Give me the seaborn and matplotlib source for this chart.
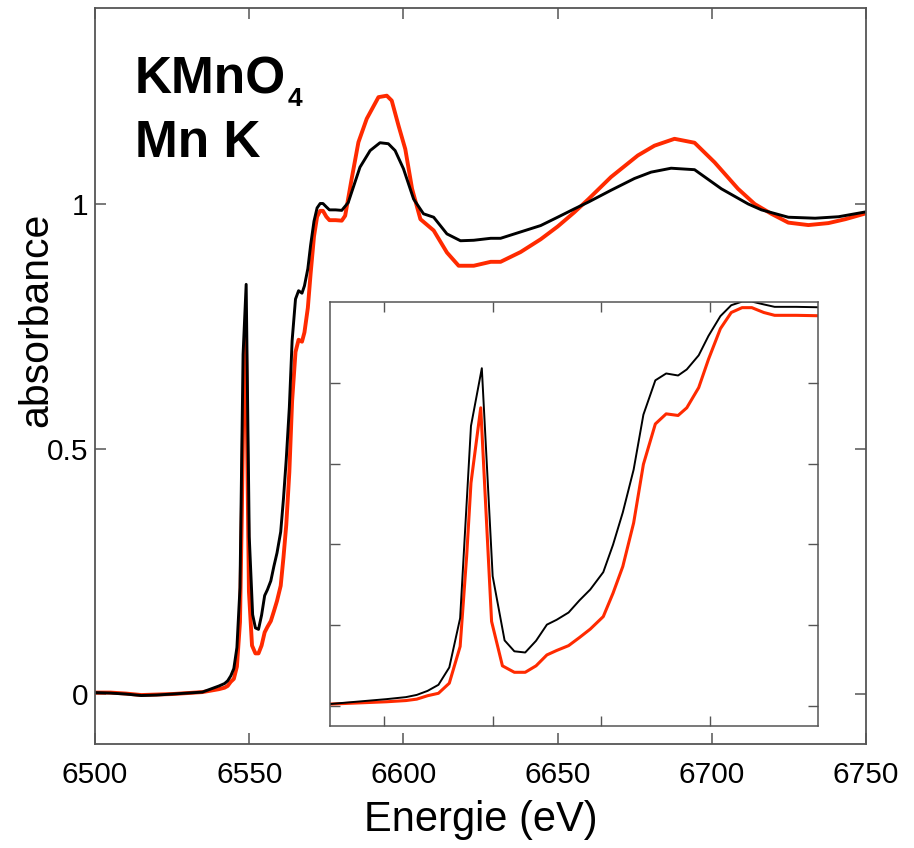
import matplotlib
matplotlib.use("Agg")
import matplotlib.pyplot as plt
import seaborn as sns
import pandas as pd

# Mn K-edge XANES of KMnO4: two measured spectra
energy_black = [6500, 6505, 6510, 6515, 6520, 6525, 6530, 6534.8, 6540.2, 6542, 6543, 6544,
                6545, 6546, 6547, 6547.6, 6548, 6549, 6550, 6551.1, 6552, 6553, 6554, 6555,
                6555.9, 6557, 6558, 6559, 6560.2, 6561.1, 6562, 6563, 6563.9, 6565, 6566,
                6567.1, 6567.9, 6569, 6569.9, 6571, 6572, 6573, 6573.9, 6575, 6576, 6578,
                6580, 6582.1, 6585.9, 6589.2, 6592.4, 6595.1, 6597.3, 6600, 6603.3, 6606.5,
                6609.8, 6614.1, 6618.5, 6622.8, 6628.3, 6631.5, 6638, 6644.5, 6650, 6655.4,
                6660, 6667.3, 6674.9, 6680.3, 6686.8, 6694.4, 6703.1, 6711.8, 6716.1, 6724.8,
                6733.5, 6741.1, 6750]
absorb_black = [0.003, 0.002, 0.0, -0.003, -0.002, 0.0, 0.002, 0.004, 0.0165, 0.0215, 0.027, 0.037,
                0.052, 0.095, 0.217, 0.502, 0.693, 0.836, 0.321, 0.162, 0.135, 0.132, 0.161, 0.201,
                0.213, 0.231, 0.261, 0.288, 0.331, 0.399, 0.479, 0.585, 0.721, 0.806, 0.823,
                0.818, 0.833, 0.868, 0.916, 0.965, 0.992, 1.001, 1.001, 0.994, 0.988, 0.988,
                0.987, 1.003, 1.075, 1.109, 1.125, 1.123, 1.109, 1.072, 1.010, 0.980,
                0.973, 0.939, 0.925, 0.926, 0.930, 0.930, 0.943, 0.956, 0.973, 0.990,
                1.004, 1.028, 1.052, 1.065, 1.073, 1.070, 1.031, 1.000, 0.988, 0.973,
                0.971, 0.974, 0.984]

energy_red = [6500, 6505, 6510, 6515, 6520, 6525, 6530, 6534.8, 6540.2, 6542, 6543, 6544,
              6545, 6546, 6547, 6547.6, 6548, 6548.9, 6549.9, 6550.9, 6552, 6553, 6554, 6555,
              6555.9, 6557, 6558, 6559, 6560.2, 6561.1, 6562, 6563, 6563.9, 6565, 6566,
              6567.1, 6567.9, 6569, 6569.9, 6571, 6572, 6573, 6573.9, 6575, 6576, 6578,
              6580, 6581.1, 6583.2, 6585.4, 6588.1, 6591.9, 6594.6, 6596.2, 6598.4, 6600.6,
              6602.8, 6605.5, 6609.8, 6614.1, 6617.9, 6622.8, 6628.3, 6631.5, 6638, 6644.5,
              6650, 6655.4, 6660, 6667.3, 6676, 6681.4, 6687.9, 6694.4, 6700.9, 6708.5,
              6713.9, 6719.3, 6724.8, 6731.3, 6737.8, 6743.3, 6750]
absorb_red = [0.003, 0.003, 0.001, -0.002, -0.001, 0.0, 0.002, 0.004, 0.010, 0.013, 0.0165, 0.025,
              0.031, 0.056, 0.147, 0.370, 0.552, 0.738, 0.209, 0.099, 0.083, 0.083, 0.099, 0.126,
              0.137, 0.149, 0.169, 0.190, 0.221, 0.279, 0.345, 0.453, 0.598, 0.698, 0.723,
              0.719, 0.738, 0.788, 0.858, 0.934, 0.974, 0.986, 0.986, 0.974, 0.967, 0.967,
              0.966, 0.976, 1.051, 1.126, 1.174, 1.218, 1.221, 1.211, 1.160, 1.112,
              1.031, 0.969, 0.946, 0.901, 0.874, 0.874, 0.882, 0.882, 0.902, 0.928,
              0.954, 0.983, 1.010, 1.055, 1.099, 1.119, 1.133, 1.125, 1.085, 1.031,
              1.000, 0.980, 0.962, 0.957, 0.961, 0.969, 0.981]

x_ticks = [6500, 6550, 6600, 6650, 6700, 6750]
y_ticks = [0, 0.5, 1]
y_tick_labels = ["0", "0.5", "1"]
inset_x_ticks = [6540, 6550, 6560, 6570]
inset_y_ticks = [0, 0.2, 0.4, 0.6, 0.8]

RED = "#ff2a00"
SPINE = "#555555"

sns.set_style("ticks")
plt.rcParams["font.family"] = ["Liberation Sans", "DejaVu Sans"]
plt.rcParams["text.color"] = "black"
plt.rcParams["axes.labelcolor"] = "black"

df_black = pd.DataFrame({"E": energy_black, "mu": absorb_black})
df_red = pd.DataFrame({"E": energy_red, "mu": absorb_red})

fig = plt.figure(figsize=(9.14, 8.48), dpi=100)
ax = fig.add_axes([0.104, 0.1226, 0.8435, 0.868])

sns.lineplot(data=df_red, x="E", y="mu", ax=ax, color=RED, lw=2.8, estimator=None, sort=False)
sns.lineplot(data=df_black, x="E", y="mu", ax=ax, color="black", lw=2.1, estimator=None, sort=False)

ax.set_xlim(6500, 6750)
ax.set_ylim(-0.102, 1.40)
ax.set_xticks(x_ticks)
ax.set_yticks(y_ticks)
ax.set_yticklabels(y_tick_labels)
ax.tick_params(axis="both", direction="in", length=8, width=1.1, color=SPINE,
               labelcolor="black", top=True, right=True, labelsize=21.5)
ax.tick_params(axis="x", pad=12)
ax.tick_params(axis="y", pad=5)
for sp in ax.spines.values():
    sp.set_color(SPINE)
    sp.set_linewidth(1.3)
ax.set_xlabel("Energie (eV)", fontsize=30, labelpad=8)
ax.set_ylabel("absorbance", fontsize=29.5)
ax.yaxis.set_label_coords(-0.052, 0.576)

# sample / edge label with subscript
t1 = ax.text(135 / 914, 1 - 93 / 848, "KMnO", transform=fig.transFigure, fontsize=37,
             fontweight="bold", ha="left", va="baseline")
ax.text(135 / 914, 1 - 157 / 848, "Mn K", transform=fig.transFigure, fontsize=37,
        fontweight="bold", ha="left", va="baseline")
fig.canvas.draw()
bb = t1.get_window_extent(renderer=fig.canvas.get_renderer())
x_sub = bb.x1 / fig.bbox.width + 1 / 914
ax.text(x_sub, 1 - 106 / 848, "4", transform=fig.transFigure, fontsize=19,
        fontweight="bold", ha="left", va="baseline")

# zoom on the pre-edge and rising edge
axin = fig.add_axes([330 / 914, 1 - 726 / 848, 488 / 914, 424 / 848])
sns.lineplot(data=df_red, x="E", y="mu", ax=axin, color=RED, lw=2.2, estimator=None, sort=False)
sns.lineplot(data=df_black, x="E", y="mu", ax=axin, color="black", lw=1.4, estimator=None, sort=False)
axin.set_xlim(6535, 6580)
axin.set_ylim(-0.05, 1.0)
axin.set_xticks(inset_x_ticks)
axin.set_yticks(inset_y_ticks)
axin.set_xticklabels([])
axin.set_yticklabels([])
axin.set_xlabel("")
axin.set_ylabel("")
axin.tick_params(axis="both", direction="in", length=7, width=1.0, color=SPINE,
                 top=True, right=True)
for sp in axin.spines.values():
    sp.set_color(SPINE)
    sp.set_linewidth(1.1)

fig.savefig("out.png", dpi=100)
